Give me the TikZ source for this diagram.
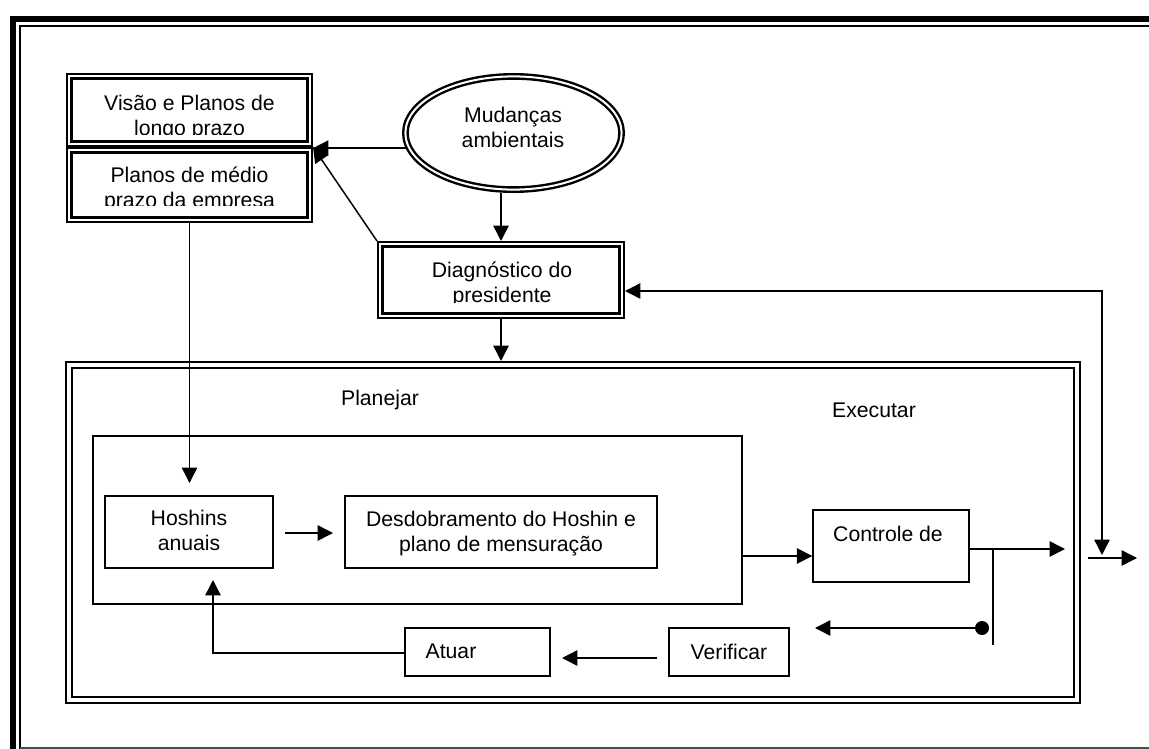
\documentclass[tikz,border=0pt]{standalone}
\usepackage{fontspec}
\setmainfont{Liberation Sans}
\usetikzlibrary{arrows.meta,shapes.geometric}
\begin{document}
\begin{tikzpicture}[x=0.75pt,y=-0.75pt,
  font=\fontsize{15.9}{18.75}\selectfont,
  tip/.tip={Triangle[length=11.5pt,width=11.5pt]},
  arr/.style={line width=1.1pt,-tip},
  ln/.style={line width=1.1pt},
  dbl/.style={draw,double,line width=1.8pt,double distance=1.5pt,inner sep=0,outer sep=2.55pt},
  bigbox/.style={draw,double,line width=1.5pt,double distance=3pt,inner sep=0,outer sep=3pt},
  box/.style={draw,line width=1.1pt,inner sep=0,outer sep=0.55pt},
  txt/.style={inner sep=0,align=center,text height=11.4pt,text depth=0pt},
  dot/.style={circle,fill,inner sep=0,minimum size=10.5pt}]
\useasboundingbox (0,0) rectangle (1149,749);
\fill[white] (0,0) rectangle (1149,749);
% page frame
\draw[line width=4.7pt] (13,749) -- (13,19.3) -- (1149,19.3);
\draw[line width=1.1pt] (20,749) -- (20,26) -- (1149,26);
\draw[line width=1.1pt,black!70] (20,747.8) -- (1149,747.8);
% shapes
\node[dbl,minimum width=180.15pt,minimum height=50.4pt] (b1) at (189.5,110) {};
\node[dbl,minimum width=180.15pt,minimum height=51.9pt] (b2) at (189.5,185) {};
\node[dbl,ellipse,minimum width=162.15pt,minimum height=84.9pt] (ell) at (513.5,133) {};
\node[dbl,minimum width=180.9pt,minimum height=53.4pt] (diag) at (501,280) {};
\node[bigbox,minimum width=756pt,minimum height=251.25pt] (big) at (573,532.5) {};
\node[box,minimum width=486.75pt,minimum height=126pt] (plan) at (417.5,520) {};
\node[box,minimum width=126pt,minimum height=54pt] (hosh) at (189,532) {};
\node[box,minimum width=234pt,minimum height=54pt] (desd) at (501,532) {};
\node[box,minimum width=117pt,minimum height=54pt] (ctrl) at (891,546) {};
\node[box,minimum width=90pt,minimum height=36pt] (verif) at (729,652) {};
\node[box,minimum width=108.75pt,minimum height=36pt] (atuar) at (477.5,652) {};
% texts (clipped like the reference text boxes)
\begin{scope}
\clip (60,80) rectangle (320,134);
\node[txt] (t1) at (189.5,128) {Visão e Planos de\\longo prazo};
\end{scope}
\begin{scope}
\clip (60,152) rectangle (320,205);
\node[txt] (t2) at (189.5,200) {Planos de médio\\prazo da empresa};
\end{scope}
\node[txt] (t3) at (513,140) {Mudanças\\ambientais};
\begin{scope}
\clip (385,248) rectangle (620,302);
\node[txt] (t4) at (502,295) {Diagnóstico do\\presidente};
\end{scope}
\node[txt] (t5) at (380,398) {Planejar};
\node[txt] (t6) at (874,410) {Executar};
\node[txt] (t7) at (189,543) {Hoshins\\anuais};
\node[txt] (t8) at (501,544) {Desdobramento do Hoshin e\\plano de mensuração};
\node[txt] (t9) at (888,534) {Controle de};
\node[txt] (t10) at (729,652) {Verificar};
\node[txt] (t11) at (451,651) {Atuar};
% coordinates
\coordinate (rt) at (1102,291);
\coordinate (rb) at (1102,555);
\coordinate (o1) at (1088,558);
\coordinate (o2) at (1137,558);
\coordinate (hin) at (189,483);
\coordinate (h1) at (285,533);
\coordinate (h2) at (333,533);
\coordinate (pc) at (0,556);
\coordinate (c1) at (1065,549);
\coordinate (v1) at (993,549);
\coordinate (v2) at (993,645);
\coordinate (dl) at (815,628);
\coordinate (va1) at (657,658);
\coordinate (va2) at (562,658);
\coordinate (ah) at (213,653);
\coordinate (at) at (213,580);
\node[dot] (d) at (982,628) {};
% connectors
\draw[arr] (ell.188) -- (ell.188 -| b2.east);
\draw[arr] (diag.north west) -- (b2.north east);
\draw[arr] (diag.north |- ell.south) -- (diag.north);
\draw[arr] (diag.south) -- (diag.south |- big.north);
\draw[line width=1.1pt,tip-tip] (diag.east |- rt) -- (rt) -- (rb);
\draw[arr] (o1) -- (o2);
\draw[arr] (b2.south) -- (b2.south |- hin);
\draw[arr] (h1) -- (h2);
\draw[arr] (plan.east |- pc) -- (ctrl.west |- pc);
\draw[arr] (ctrl.east |- c1) -- (c1);
\draw[ln] (v1) -- (v2);
\draw[arr] (d) -- (dl);
\draw[arr] (va1) -- (va2);
\draw[arr] (atuar.west |- ah) -- (ah) -- (at);
\end{tikzpicture}
\end{document}
